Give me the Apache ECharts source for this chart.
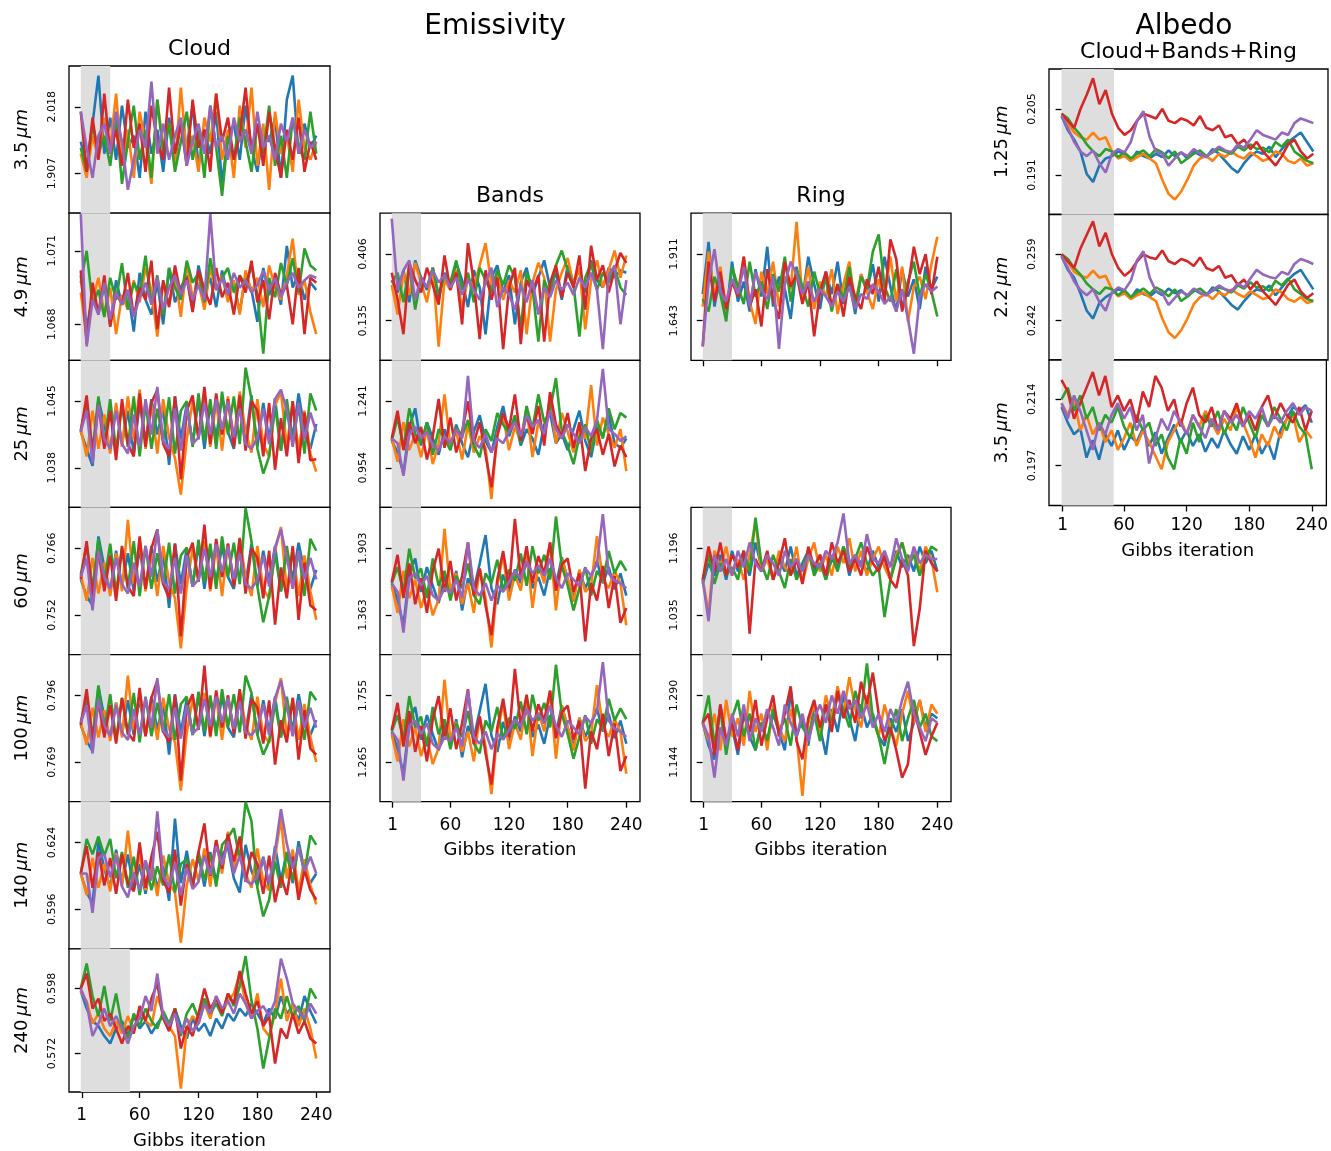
<!DOCTYPE html>
<html><head><meta charset="utf-8">
<script src="https://cdn.jsdelivr.net/npm/echarts@6/dist/echarts.min.js"></script>
<style>html,body{margin:0;padding:0;background:#fff}#c{width:1331px;height:1151px}</style>
</head><body><div id="c"></div><script>
// ---------------- DATA ----------------
const iterations = [0,6,12,18,24,30,36,42,48,54,60,66,72,78,84,90,96,102,108,114,120,126,132,138,144,150,156,162,168,174,180,186,192,198,204,210,216,222,228,234,240];
const xTickValues = [1,60,120,180,240];
const chainColors = ['#1f77b4','#ff7f0e','#2ca02c','#d62728','#9467bd'];

// Emissivity - Cloud (5 chains each: blue, orange, green, red, purple)
const cloud35 = [
[1.96,1.92,1.99,2.07,1.94,2.00,1.93,2.02,1.95,1.97,1.90,2.01,1.94,1.98,1.91,2.00,1.93,1.99,1.95,2.02,1.92,1.98,1.94,2.01,1.89,1.97,1.99,1.93,2.02,1.95,1.91,1.98,1.96,2.00,1.90,2.03,2.07,1.94,1.99,1.95,1.97],
[1.94,1.90,1.97,1.93,2.00,1.95,2.04,1.92,1.98,1.90,2.01,1.96,1.89,2.03,1.95,1.99,1.92,2.05,1.94,1.97,1.91,2.00,1.96,2.04,1.93,1.98,1.90,2.02,1.95,2.05,1.92,1.99,1.88,2.01,1.94,1.97,1.91,2.03,1.95,1.93,1.96],
[1.95,1.91,1.99,1.94,1.97,1.92,2.00,1.89,1.96,2.02,1.93,1.98,1.90,2.03,1.94,1.99,1.91,1.96,2.01,1.93,1.98,1.90,2.02,1.95,1.87,1.97,1.93,2.00,1.96,1.91,1.99,1.94,2.02,1.92,1.97,1.90,2.00,1.95,1.93,2.01,1.94],
[2.01,1.91,2.00,1.93,2.04,1.94,1.98,1.92,2.03,1.95,1.99,1.91,2.02,1.96,1.93,2.05,1.94,1.99,1.92,2.03,1.95,1.98,1.91,2.04,1.96,2.00,1.93,1.97,2.05,1.94,1.99,1.92,2.01,1.95,1.90,1.98,1.93,2.00,1.91,1.96,1.93],
[2.01,1.95,1.90,1.97,1.99,1.94,2.01,1.96,1.88,1.93,1.98,1.95,2.06,1.94,1.99,1.93,1.97,2.00,1.92,1.96,1.99,1.94,2.02,1.95,1.97,1.93,2.00,1.96,1.98,1.94,2.01,1.95,1.97,1.93,1.99,1.96,2.00,1.94,1.98,1.95,1.96]];
const cloud49 = [
[1.0700,1.0678,1.0692,1.0685,1.0696,1.0680,1.0698,1.0688,1.0694,1.0677,1.0701,1.0690,1.0684,1.0697,1.0680,1.0703,1.0689,1.0695,1.0700,1.0686,1.0704,1.0693,1.0699,1.0687,1.0702,1.0691,1.0697,1.0685,1.0700,1.0694,1.0681,1.0703,1.0692,1.0698,1.0688,1.0712,1.0695,1.0701,1.0690,1.0697,1.0694],
[1.0693,1.0675,1.0690,1.0699,1.0684,1.0695,1.0676,1.0692,1.0686,1.0698,1.0689,1.0703,1.0694,1.0675,1.0697,1.0688,1.0701,1.0683,1.0705,1.0691,1.0697,1.0686,1.0703,1.0694,1.0700,1.0689,1.0698,1.0684,1.0702,1.0693,1.0699,1.0687,1.0704,1.0695,1.0690,1.0700,1.0715,1.0692,1.0698,1.0685,1.0676],
[1.0697,1.0710,1.0688,1.0694,1.0683,1.0699,1.0690,1.0705,1.0686,1.0697,1.0692,1.0708,1.0688,1.0700,1.0684,1.0703,1.0695,1.0690,1.0706,1.0697,1.0701,1.0689,1.0707,1.0694,1.0699,1.0703,1.0693,1.0700,1.0696,1.0704,1.0692,1.0668,1.0699,1.0691,1.0705,1.0696,1.0707,1.0693,1.0711,1.0704,1.0702],
[1.0702,1.0672,1.0697,1.0684,1.0700,1.0679,1.0693,1.0688,1.0701,1.0683,1.0695,1.0690,1.0706,1.0678,1.0698,1.0687,1.0704,1.0692,1.0699,1.0685,1.0702,1.0694,1.0688,1.0703,1.0691,1.0697,1.0684,1.0700,1.0693,1.0706,1.0689,1.0698,1.0682,1.0701,1.0692,1.0696,1.0680,1.0703,1.0676,1.0699,1.0697],
[1.0725,1.0671,1.0690,1.0684,1.0697,1.0682,1.0693,1.0688,1.0694,1.0683,1.0691,1.0697,1.0688,1.0699,1.0686,1.0695,1.0700,1.0692,1.0698,1.0690,1.0696,1.0690,1.0725,1.0694,1.0699,1.0692,1.0701,1.0695,1.0698,1.0693,1.0696,1.0702,1.0694,1.0699,1.0691,1.0697,1.0701,1.0695,1.0698,1.0700,1.0699]];
const cloud25 = [
[1.0418,1.0400,1.0382,1.0452,1.0425,1.0398,1.0445,1.0405,1.0440,1.0395,1.0448,1.0408,1.0452,1.0415,1.0442,1.0383,1.0455,1.0410,1.0447,1.0405,1.0452,1.0400,1.0446,1.0412,1.0455,1.0418,1.0400,1.0450,1.0408,1.0456,1.0402,1.0448,1.0410,1.0453,1.0398,1.0445,1.0412,1.0458,1.0420,1.0400,1.0426],
[1.0420,1.0392,1.0440,1.0400,1.0436,1.0395,1.0448,1.0402,1.0455,1.0410,1.0462,1.0400,1.0446,1.0395,1.0452,1.0412,1.0390,1.0352,1.0410,1.0450,1.0412,1.0458,1.0402,1.0450,1.0398,1.0455,1.0410,1.0460,1.0418,1.0396,1.0452,1.0405,1.0392,1.0445,1.0460,1.0402,1.0450,1.0398,1.0440,1.0395,1.0376],
[1.0420,1.0448,1.0398,1.0455,1.0405,1.0452,1.0398,1.0446,1.0402,1.0455,1.0392,1.0448,1.0400,1.0442,1.0408,1.0454,1.0395,1.0440,1.0450,1.0402,1.0458,1.0408,1.0452,1.0400,1.0460,1.0415,1.0455,1.0405,1.0485,1.0452,1.0400,1.0374,1.0392,1.0445,1.0398,1.0452,1.0405,1.0446,1.0395,1.0458,1.0440],
[1.0418,1.0456,1.0395,1.0446,1.0400,1.0440,1.0388,1.0452,1.0405,1.0392,1.0458,1.0402,1.0448,1.0462,1.0405,1.0392,1.0455,1.0368,1.0440,1.0456,1.0410,1.0465,1.0405,1.0458,1.0415,1.0452,1.0402,1.0456,1.0398,1.0450,1.0440,1.0392,1.0448,1.0378,1.0432,1.0392,1.0450,1.0385,1.0438,1.0388,1.0389],
[1.0418,1.0440,1.0385,1.0446,1.0410,1.0400,1.0440,1.0405,1.0395,1.0436,1.0402,1.0452,1.0415,1.0465,1.0408,1.0400,1.0442,1.0398,1.0445,1.0405,1.0412,1.0448,1.0415,1.0452,1.0420,1.0450,1.0412,1.0442,1.0405,1.0400,1.0412,1.0442,1.0405,1.0452,1.0462,1.0440,1.0402,1.0448,1.0410,1.0438,1.0418]];
const cloud60 = [
[0.7595,0.7560,0.7540,0.7685,0.7620,0.7570,0.7655,0.7580,0.7650,0.7570,0.7660,0.7575,0.7665,0.7590,0.7650,0.7535,0.7670,0.7585,0.7660,0.7580,0.7668,0.7575,0.7660,0.7590,0.7665,0.7600,0.7575,0.7660,0.7585,0.7670,0.7580,0.7655,0.7590,0.7665,0.7570,0.7655,0.7595,0.7672,0.7610,0.7575,0.7615],
[0.7605,0.7550,0.7640,0.7565,0.7630,0.7560,0.7650,0.7570,0.7720,0.7585,0.7675,0.7570,0.7650,0.7560,0.7665,0.7590,0.7555,0.7450,0.7580,0.7660,0.7590,0.7675,0.7570,0.7665,0.7560,0.7670,0.7585,0.7680,0.7600,0.7560,0.7665,0.7575,0.7555,0.7655,0.7705,0.7570,0.7660,0.7560,0.7645,0.7570,0.7510],
[0.7605,0.7665,0.7575,0.7680,0.7590,0.7670,0.7565,0.7660,0.7575,0.7675,0.7560,0.7665,0.7575,0.7650,0.7585,0.7672,0.7565,0.7645,0.7662,0.7580,0.7678,0.7590,0.7670,0.7575,0.7685,0.7600,0.7672,0.7585,0.7745,0.7675,0.7580,0.7505,0.7560,0.7650,0.7570,0.7665,0.7580,0.7655,0.7560,0.7680,0.7655],
[0.7595,0.7675,0.7560,0.7655,0.7570,0.7645,0.7550,0.7665,0.7580,0.7560,0.7685,0.7575,0.7660,0.7700,0.7585,0.7555,0.7670,0.7475,0.7640,0.7672,0.7590,0.7710,0.7575,0.7680,0.7600,0.7670,0.7580,0.7682,0.7565,0.7660,0.7640,0.7555,0.7655,0.7500,0.7620,0.7555,0.7665,0.7510,0.7630,0.7540,0.7530],
[0.7600,0.7640,0.7530,0.7655,0.7600,0.7575,0.7640,0.7585,0.7565,0.7630,0.7580,0.7665,0.7600,0.7700,0.7590,0.7575,0.7640,0.7565,0.7645,0.7580,0.7595,0.7660,0.7600,0.7668,0.7610,0.7665,0.7595,0.7650,0.7585,0.7575,0.7595,0.7645,0.7580,0.7662,0.7700,0.7640,0.7575,0.7655,0.7595,0.7640,0.7595]];
const cloud100 = [
[0.7840,0.7775,0.7735,0.7995,0.7870,0.7790,0.7930,0.7805,0.7940,0.7800,0.7950,0.7795,0.7955,0.7820,0.7930,0.7720,0.7965,0.7810,0.7945,0.7800,0.7960,0.7795,0.7945,0.7815,0.7955,0.7830,0.7790,0.7950,0.7810,0.7965,0.7800,0.7940,0.7815,0.7955,0.7790,0.7940,0.7820,0.7965,0.7845,0.7800,0.7860],
[0.7850,0.7760,0.7910,0.7790,0.7900,0.7775,0.7930,0.7790,0.8040,0.7820,0.7965,0.7795,0.7930,0.7780,0.7950,0.7825,0.7770,0.7575,0.7810,0.7945,0.7825,0.7970,0.7790,0.7955,0.7780,0.7960,0.7815,0.7975,0.7840,0.7780,0.7955,0.7800,0.7770,0.7930,0.8030,0.7790,0.7950,0.7780,0.7925,0.7790,0.7690],
[0.7850,0.7950,0.7790,0.8000,0.7815,0.7965,0.7780,0.7950,0.7800,0.7970,0.7770,0.7955,0.7795,0.7930,0.7810,0.7965,0.7780,0.7925,0.7955,0.7800,0.7975,0.7815,0.7960,0.7795,0.7985,0.7830,0.7965,0.7810,0.8040,0.7970,0.7800,0.7720,0.7775,0.7930,0.7790,0.7955,0.7800,0.7940,0.7780,0.7975,0.7940],
[0.7840,0.7985,0.7780,0.7935,0.7790,0.7920,0.7765,0.7950,0.7810,0.7775,0.7990,0.7795,0.7950,0.8020,0.7815,0.7770,0.7960,0.7615,0.7910,0.7965,0.7820,0.8080,0.7795,0.7980,0.7830,0.7960,0.7805,0.7985,0.7785,0.7945,0.7910,0.7765,0.7940,0.7680,0.7860,0.7770,0.7950,0.7700,0.7900,0.7745,0.7720],
[0.7850,0.7920,0.7725,0.7945,0.7840,0.7795,0.7920,0.7810,0.7780,0.7905,0.7800,0.7950,0.7830,0.8030,0.7820,0.7790,0.7910,0.7785,0.7920,0.7805,0.7830,0.7945,0.7835,0.7955,0.7850,0.7950,0.7825,0.7935,0.7810,0.7800,0.7830,0.7925,0.7800,0.7950,0.8020,0.7915,0.7795,0.7940,0.7830,0.7910,0.7830]];
const cloud140 = [
[0.6110,0.6030,0.5985,0.6245,0.6130,0.6050,0.6210,0.6070,0.6190,0.6040,0.6150,0.6025,0.6165,0.6050,0.6140,0.5995,0.6340,0.6070,0.6205,0.6060,0.6185,0.6055,0.6200,0.6075,0.6190,0.6220,0.6090,0.6030,0.6230,0.6120,0.6060,0.6180,0.6050,0.6225,0.6080,0.6200,0.6070,0.6245,0.6120,0.6070,0.6110],
[0.6110,0.6020,0.6175,0.6050,0.6150,0.6035,0.6195,0.6055,0.6290,0.6075,0.6190,0.6040,0.6160,0.6015,0.6185,0.6070,0.6030,0.5820,0.6060,0.6170,0.6080,0.6215,0.6055,0.6250,0.6110,0.6285,0.6130,0.6250,0.6110,0.6050,0.6215,0.6075,0.6040,0.6180,0.6340,0.6090,0.6210,0.6035,0.6170,0.6060,0.5980],
[0.6110,0.6255,0.6190,0.6265,0.6185,0.6255,0.6090,0.6200,0.6050,0.6180,0.6020,0.6160,0.6040,0.6140,0.6060,0.6190,0.6030,0.6150,0.6170,0.6050,0.6200,0.6080,0.6190,0.6055,0.6230,0.6260,0.6300,0.6170,0.6410,0.6330,0.6050,0.5930,0.6000,0.6160,0.6050,0.6200,0.6080,0.6225,0.6110,0.6270,0.6230],
[0.6110,0.6225,0.6050,0.6200,0.6060,0.6175,0.6025,0.6190,0.6070,0.6035,0.6240,0.6050,0.6180,0.6285,0.6080,0.6030,0.6210,0.5975,0.6150,0.6060,0.6200,0.6320,0.6100,0.6250,0.6130,0.6275,0.6160,0.6265,0.6075,0.6200,0.6150,0.6025,0.6185,0.5990,0.6100,0.6020,0.6180,0.6000,0.6125,0.6040,0.6000],
[0.6110,0.6110,0.5945,0.6175,0.6190,0.6095,0.6185,0.6055,0.6010,0.6115,0.6040,0.6165,0.6080,0.6370,0.6100,0.6055,0.6155,0.6020,0.6135,0.6045,0.6075,0.6185,0.6105,0.6225,0.6145,0.6245,0.6110,0.6185,0.6080,0.6065,0.6100,0.6175,0.6070,0.6205,0.6380,0.6235,0.6130,0.6220,0.6120,0.6180,0.6110]];
const cloud240 = [
[0.5970,0.5900,0.5850,0.5830,0.5790,0.5760,0.5820,0.5850,0.5790,0.5870,0.5820,0.5850,0.5800,0.5840,0.5870,0.5810,0.5900,0.5830,0.5780,0.5860,0.5810,0.5840,0.5790,0.5860,0.5820,0.5880,0.5850,0.5900,0.5870,0.5920,0.5880,0.5840,0.5900,0.5860,0.5950,0.5880,0.5910,0.5850,0.5950,0.5890,0.5840],
[0.5970,0.5930,0.5840,0.5880,0.5820,0.5790,0.5850,0.5800,0.5870,0.5810,0.5900,0.5850,0.5830,0.5950,0.5880,0.5830,0.5790,0.5580,0.5820,0.5870,0.5840,0.5920,0.5860,0.5950,0.5880,0.5930,0.5960,0.6040,0.5920,0.5860,0.5960,0.5820,0.5790,0.5880,0.6020,0.5850,0.5920,0.5830,0.5900,0.5820,0.5700],
[0.5980,0.6080,0.5950,0.5870,0.5990,0.5850,0.5960,0.5830,0.5780,0.5880,0.5830,0.5900,0.5850,0.5820,0.5890,0.5840,0.5900,0.5790,0.5880,0.5920,0.5860,0.5940,0.5880,0.5920,0.5870,0.5960,0.5910,0.5990,0.6110,0.5930,0.5820,0.5660,0.5780,0.5900,0.5860,0.5950,0.5870,0.5910,0.5850,0.5980,0.5940],
[0.5980,0.6040,0.5900,0.5940,0.5850,0.5880,0.5820,0.5760,0.5830,0.5800,0.5910,0.5850,0.5940,0.6000,0.5860,0.5810,0.5900,0.5740,0.5830,0.5790,0.5880,0.5980,0.5900,0.5940,0.5880,0.5960,0.5920,0.6050,0.5960,0.5880,0.5930,0.5830,0.5870,0.5680,0.5820,0.5780,0.5880,0.5800,0.5850,0.5780,0.5760],
[0.5980,0.5920,0.5790,0.5840,0.5900,0.5830,0.5870,0.5820,0.5760,0.5830,0.5860,0.5950,0.5890,0.6040,0.5870,0.5830,0.5880,0.5800,0.5860,0.5810,0.5840,0.5920,0.5880,0.5950,0.5900,0.5930,0.5880,0.5960,0.5920,0.5860,0.5890,0.5910,0.5870,0.5930,0.6100,0.6020,0.5920,0.5890,0.5860,0.5920,0.5880]];

// Emissivity - Bands
const bands49 = [
[0.30,0.25,0.34,0.21,0.38,0.31,0.26,0.35,0.22,0.33,0.28,0.37,0.30,0.19,0.34,0.27,0.08,0.31,0.36,0.25,0.32,0.12,0.29,0.35,0.24,0.31,0.38,0.27,0.33,0.22,0.36,0.29,0.34,0.25,0.38,0.30,0.27,0.35,0.31,0.34,0.33],
[0.28,0.16,0.33,0.24,0.37,0.29,0.21,0.35,0.03,0.30,0.26,0.34,0.18,0.31,0.27,0.36,0.45,0.28,0.33,0.22,0.30,0.25,0.34,0.08,0.29,0.37,0.31,0.05,0.26,0.33,0.39,0.28,0.35,0.10,0.30,0.38,0.27,0.34,0.42,0.31,0.40],
[0.29,0.33,0.21,0.36,0.18,0.31,0.27,0.35,0.24,0.32,0.29,0.38,0.26,0.33,0.21,0.35,0.30,0.25,0.34,0.28,0.36,0.31,0.10,0.33,0.27,0.05,0.30,0.24,0.36,0.42,0.34,0.28,0.07,0.31,0.37,0.26,0.33,0.29,0.35,0.27,0.24],
[0.33,0.22,0.08,0.37,0.30,0.25,0.35,0.28,0.20,0.40,0.26,0.33,0.12,0.45,0.29,0.06,0.34,0.22,0.31,0.02,0.27,0.35,0.04,0.30,0.25,0.32,0.05,0.29,0.36,0.23,0.33,0.27,0.40,0.18,0.44,0.30,0.36,0.25,0.34,0.41,0.37],
[0.55,0.26,0.34,0.38,0.22,0.31,0.27,0.34,0.29,0.32,0.27,0.31,0.24,0.30,0.26,0.22,0.29,0.35,0.19,0.27,0.24,0.18,0.28,0.21,0.30,0.16,0.27,0.23,0.30,0.26,0.29,0.24,0.31,0.27,0.33,0.26,0.02,0.32,0.36,0.12,0.30]];
const bands25 = [
[1.07,1.02,0.93,1.13,1.21,1.05,1.15,1.08,1.01,1.12,1.04,1.14,1.06,1.00,1.11,1.18,1.07,1.02,1.13,1.22,1.09,1.16,1.05,1.12,1.08,1.01,1.14,1.19,1.06,1.10,1.03,1.12,1.20,1.07,1.00,1.13,1.09,1.18,1.06,1.04,1.08],
[1.08,0.98,1.15,1.03,1.10,1.00,1.12,0.97,1.06,1.27,1.05,1.11,0.99,1.14,1.02,1.09,1.04,0.82,1.10,1.18,1.03,1.13,1.07,1.21,1.00,1.15,1.09,1.26,1.06,1.19,1.11,1.02,1.14,1.08,1.31,1.05,1.17,1.10,1.04,1.12,0.94],
[1.07,1.17,1.04,1.21,1.10,1.06,1.15,1.01,1.12,1.08,1.03,1.13,1.09,1.16,1.05,1.00,1.12,1.07,1.19,1.14,1.10,1.18,1.06,1.22,1.12,1.27,1.15,1.20,1.34,1.11,1.05,0.97,1.09,1.14,1.02,1.16,1.08,1.21,1.12,1.19,1.17],
[1.08,1.20,1.03,1.15,1.06,1.13,0.99,1.09,1.25,1.04,1.17,1.02,1.11,1.24,1.06,1.15,1.01,0.87,1.09,1.19,1.12,1.27,1.07,1.18,1.10,1.22,1.05,1.28,1.14,1.09,1.19,1.04,1.15,0.94,1.08,1.12,1.01,1.10,0.96,1.05,1.00],
[1.08,1.06,0.92,1.10,1.13,1.08,1.11,1.05,1.03,1.09,1.06,1.12,1.08,1.35,1.07,1.04,1.10,1.02,1.08,1.06,1.11,1.15,1.09,1.18,1.13,1.16,1.10,1.20,1.12,1.08,1.14,1.10,1.06,1.13,1.09,1.16,1.38,1.12,1.10,1.07,1.09]];
const bands60 = [
[1.62,1.48,1.28,1.70,1.82,1.55,1.75,1.60,1.46,1.68,1.52,1.72,1.40,1.66,1.57,1.78,2.01,1.58,1.45,1.69,1.55,1.73,1.62,1.80,1.58,1.67,1.52,1.74,1.60,1.83,1.65,1.50,1.72,1.58,1.68,1.80,1.62,1.75,1.57,1.70,1.52],
[1.60,1.38,1.72,1.50,1.65,1.42,1.58,1.36,1.49,2.06,1.55,1.70,1.45,1.62,1.38,1.74,1.50,1.10,1.60,1.85,1.48,1.69,1.56,1.88,1.42,1.77,1.62,1.95,1.40,1.82,1.66,1.47,1.73,1.55,1.60,2.00,1.65,1.58,1.72,1.62,1.28],
[1.62,1.75,1.55,1.90,1.66,1.74,1.50,1.82,1.60,1.72,1.48,1.68,1.58,1.78,1.52,1.45,1.70,1.62,1.81,1.56,1.73,1.64,1.86,1.60,1.92,1.70,1.85,1.65,2.16,1.76,1.60,1.40,1.58,1.75,1.52,1.72,1.64,1.88,1.70,1.80,1.72],
[1.63,1.85,1.50,1.78,1.45,1.66,1.38,1.72,1.90,1.55,1.80,1.48,1.68,1.95,1.52,1.74,1.44,1.20,1.65,1.88,1.58,2.14,1.66,1.92,1.62,1.84,1.70,1.95,1.56,1.77,1.82,1.55,1.70,1.15,1.62,1.48,1.76,1.42,1.68,1.30,1.42],
[1.62,1.55,1.22,1.66,1.70,1.60,1.68,1.52,1.48,1.58,1.54,1.65,1.50,1.95,1.58,1.52,1.62,1.48,1.60,1.55,1.63,1.72,1.66,1.80,1.70,1.76,1.68,1.82,1.66,1.58,1.70,1.65,1.60,1.74,1.68,1.78,2.18,1.70,1.64,1.62,1.58]];
const bands100 = [
[1.49,1.36,1.18,1.56,1.67,1.43,1.61,1.47,1.35,1.54,1.40,1.58,1.30,1.53,1.44,1.64,1.84,1.46,1.34,1.56,1.42,1.60,1.49,1.66,1.45,1.54,1.40,1.61,1.47,1.68,1.52,1.38,1.59,1.45,1.55,1.66,1.49,1.62,1.44,1.57,1.40],
[1.47,1.27,1.58,1.38,1.52,1.31,1.45,1.25,1.37,1.87,1.43,1.56,1.34,1.49,1.27,1.60,1.38,1.03,1.47,1.70,1.36,1.55,1.43,1.72,1.31,1.63,1.49,1.79,1.29,1.68,1.52,1.35,1.59,1.42,1.47,1.83,1.52,1.45,1.58,1.49,1.18],
[1.49,1.61,1.43,1.75,1.52,1.60,1.38,1.67,1.47,1.58,1.36,1.55,1.45,1.64,1.40,1.33,1.57,1.49,1.67,1.43,1.59,1.51,1.71,1.47,1.76,1.57,1.70,1.52,1.98,1.62,1.47,1.29,1.45,1.61,1.40,1.58,1.51,1.73,1.57,1.66,1.58],
[1.50,1.70,1.38,1.64,1.34,1.53,1.27,1.58,1.75,1.43,1.66,1.36,1.55,1.80,1.40,1.60,1.33,1.10,1.52,1.73,1.45,1.95,1.53,1.76,1.49,1.69,1.57,1.79,1.44,1.63,1.68,1.43,1.57,1.07,1.49,1.36,1.62,1.31,1.55,1.20,1.31],
[1.49,1.43,1.13,1.53,1.57,1.47,1.55,1.40,1.36,1.45,1.42,1.52,1.38,1.79,1.45,1.40,1.49,1.36,1.47,1.43,1.50,1.58,1.53,1.66,1.57,1.62,1.55,1.68,1.53,1.45,1.57,1.52,1.47,1.60,1.55,1.64,2.00,1.57,1.51,1.49,1.45]];

// Emissivity - Ring
const ring49 = [
[1.75,1.96,1.70,1.83,1.66,1.88,1.72,1.80,1.68,1.85,1.74,1.94,1.70,1.82,1.77,1.65,1.86,1.73,1.90,1.79,1.69,1.84,1.75,1.88,1.71,1.80,1.67,1.83,1.76,1.87,1.72,1.90,1.78,1.68,1.85,1.74,1.81,1.69,1.86,1.77,1.82],
[1.70,1.92,1.74,1.86,1.68,1.81,1.76,1.90,1.72,1.63,1.84,1.75,1.88,1.70,1.82,1.77,2.04,1.73,1.86,1.69,1.80,1.74,1.85,1.67,1.79,1.88,1.71,1.83,1.76,1.69,1.81,1.74,1.90,1.72,1.86,1.64,1.78,1.82,1.73,1.87,1.98],
[1.73,1.68,1.82,1.75,1.64,1.86,1.78,1.71,1.88,1.74,1.80,1.69,1.83,1.76,1.90,1.72,1.85,1.78,1.70,1.84,1.75,1.81,1.68,1.79,1.73,1.86,1.70,1.82,1.77,1.92,1.99,1.78,1.72,1.85,1.69,1.80,1.88,1.74,1.83,1.76,1.66],
[1.54,1.88,1.72,1.84,1.69,1.80,1.74,1.90,1.70,1.77,1.62,1.85,1.73,1.65,1.88,1.78,1.83,1.71,1.80,1.58,1.76,1.84,1.70,1.79,1.66,1.82,1.74,1.69,1.81,1.75,1.86,1.72,1.97,1.89,1.68,1.78,1.94,1.83,1.91,1.75,1.90],
[1.54,1.80,1.93,1.76,1.72,1.81,1.75,1.86,1.70,1.84,1.77,1.73,1.82,1.53,1.79,1.88,1.83,1.75,1.80,1.72,1.77,1.74,1.70,1.76,1.72,1.78,1.69,1.75,1.73,1.79,1.76,1.71,1.74,1.68,1.77,1.65,1.51,1.74,1.79,1.76,1.78]];
const ring60 = [
[1.11,1.16,1.13,1.18,1.12,1.19,1.14,1.17,1.13,1.21,1.15,1.18,1.12,1.17,1.14,1.20,1.13,1.16,1.19,1.14,1.18,1.12,1.17,1.15,1.20,1.13,1.18,1.16,1.14,1.19,1.15,1.17,1.12,1.19,1.15,1.18,1.14,1.20,1.16,1.19,1.14],
[1.12,1.04,1.19,1.15,1.20,1.13,1.17,1.12,1.18,1.26,1.14,1.17,1.12,1.19,1.15,1.13,1.20,1.11,1.17,1.21,1.14,1.18,1.13,1.20,1.16,1.22,1.14,1.19,1.13,1.17,1.20,1.15,1.12,1.18,1.21,1.16,1.19,1.14,1.20,1.17,1.09],
[1.12,1.18,1.11,1.16,1.13,1.15,1.12,1.19,1.14,1.27,1.16,1.12,1.18,1.14,1.10,1.17,1.12,1.15,1.19,1.13,1.16,1.12,1.18,1.14,1.20,1.15,1.17,1.21,1.16,1.13,1.15,1.03,1.12,1.17,1.21,1.15,1.18,1.13,1.17,1.20,1.19],
[1.12,1.20,1.14,1.21,1.13,1.18,1.15,1.19,0.99,1.17,1.14,1.19,1.12,1.16,1.22,1.13,1.17,1.11,1.20,1.15,1.18,1.13,1.21,1.16,1.19,1.14,1.17,1.13,1.20,1.16,1.14,1.18,1.12,1.10,1.17,1.13,0.96,1.05,1.19,1.16,1.14],
[1.12,1.02,1.18,1.14,1.17,1.13,1.19,1.15,1.21,1.16,1.14,1.18,1.16,1.13,1.19,1.15,1.17,1.14,1.18,1.16,1.15,1.19,1.17,1.21,1.28,1.16,1.18,1.15,1.23,1.17,1.16,1.19,1.15,1.22,1.17,1.14,1.20,1.16,1.18,1.17,1.17]];
const ring100 = [
[1.23,1.18,1.15,1.27,1.19,1.22,1.16,1.25,1.20,1.17,1.23,1.19,1.25,1.21,1.17,1.30,1.20,1.24,1.18,1.27,1.22,1.16,1.26,1.21,1.29,1.24,1.19,1.27,1.22,1.25,1.20,1.18,1.24,1.21,1.26,1.19,1.23,1.28,1.22,1.25,1.24],
[1.23,1.19,1.25,1.17,1.28,1.20,1.24,1.18,1.30,1.21,1.25,1.17,1.27,1.22,1.19,1.26,1.20,1.07,1.23,1.27,1.21,1.29,1.24,1.31,1.25,1.33,1.26,1.22,1.29,1.24,1.20,1.27,1.22,1.18,1.25,1.30,1.23,1.28,1.21,1.27,1.25],
[1.23,1.29,1.18,1.26,1.16,1.24,1.28,1.20,1.25,1.17,1.23,1.19,1.26,1.21,1.24,1.18,1.27,1.22,1.20,1.25,1.19,1.27,1.23,1.29,1.26,1.22,1.30,1.25,1.36,1.24,1.20,1.14,1.21,1.26,1.19,1.24,1.28,1.22,1.25,1.20,1.19],
[1.23,1.25,1.16,1.27,1.19,1.23,1.17,1.26,1.21,1.28,1.18,1.24,1.29,1.20,1.25,1.31,1.19,1.15,1.24,1.28,1.22,1.27,1.21,1.30,1.24,1.28,1.23,1.32,1.27,1.34,1.25,1.19,1.22,1.17,1.11,1.14,1.26,1.21,1.16,1.20,1.23],
[1.23,1.20,1.11,1.22,1.18,1.25,1.20,1.27,1.19,1.24,1.21,1.26,1.22,1.18,1.27,1.23,1.20,1.25,1.19,1.24,1.27,1.23,1.29,1.25,1.30,1.26,1.28,1.24,1.27,1.22,1.25,1.21,1.26,1.23,1.28,1.32,1.25,1.22,1.19,1.24,1.23]];

// Albedo - Cloud+Bands+Ring
const albedo125 = [
[0.2035,0.2005,0.1985,0.1960,0.1912,0.1895,0.1930,0.1945,0.1950,0.1960,0.1955,0.1940,0.1960,0.1950,0.1945,0.1955,0.1948,0.1962,0.1950,0.1958,0.1945,0.1960,0.1952,0.1948,0.1965,0.1955,0.1940,0.1925,0.1915,0.1935,0.1950,0.1960,0.1955,0.1970,0.1948,0.1965,0.1980,0.1990,0.2000,0.1980,0.1960],
[0.2035,0.2020,0.2000,0.1990,0.1985,0.2000,0.1985,0.1990,0.1960,0.1945,0.1950,0.1940,0.1948,0.1955,0.1945,0.1935,0.1900,0.1870,0.1858,0.1875,0.1900,0.1930,0.1945,0.1950,0.1940,0.1955,0.1948,0.1960,0.1950,0.1945,0.1958,0.1950,0.1940,0.1945,0.1960,0.1955,0.1940,0.1935,0.1945,0.1930,0.1935],
[0.2040,0.2030,0.2010,0.1995,0.1975,0.1960,0.1950,0.1965,0.1960,0.1948,0.1958,0.1945,0.1955,0.1962,0.1950,0.1965,0.1958,0.1945,0.1960,0.1935,0.1945,0.1955,0.1962,0.1950,0.1958,0.1965,0.1960,0.1955,0.1970,0.1962,0.1975,0.1965,0.1968,0.1958,0.1980,0.1970,0.1985,0.1960,0.1950,0.1940,0.1935],
[0.2040,0.2025,0.2010,0.2050,0.2080,0.2115,0.2060,0.2090,0.2040,0.2010,0.1995,0.2005,0.2025,0.2040,0.2035,0.2030,0.2050,0.2025,0.2020,0.2030,0.2025,0.2015,0.2035,0.2010,0.2005,0.2015,0.1990,0.1995,0.1975,0.1985,0.1965,0.1980,0.1960,0.1945,0.1930,0.1950,0.1975,0.1985,0.1960,0.1945,0.1955],
[0.2035,0.2010,0.1980,0.1960,0.1950,0.1962,0.1935,0.1915,0.1955,0.1965,0.1958,0.1980,0.2025,0.2045,0.1990,0.1960,0.1955,0.1930,0.1945,0.1958,0.1950,0.1965,0.1955,0.1948,0.1960,0.1970,0.1962,0.1958,0.1975,0.1968,0.1985,0.2005,0.1995,0.1990,0.1985,0.2000,0.1995,0.2020,0.2030,0.2025,0.2020]];
const albedo22 = [
[0.2585,0.2550,0.2530,0.2490,0.2445,0.2425,0.2465,0.2480,0.2490,0.2500,0.2495,0.2478,0.2500,0.2488,0.2482,0.2495,0.2485,0.2502,0.2490,0.2498,0.2482,0.2500,0.2490,0.2485,0.2505,0.2495,0.2478,0.2460,0.2448,0.2470,0.2488,0.2500,0.2495,0.2510,0.2485,0.2505,0.2525,0.2540,0.2550,0.2525,0.2500],
[0.2585,0.2570,0.2545,0.2535,0.2530,0.2548,0.2530,0.2535,0.2500,0.2482,0.2490,0.2475,0.2485,0.2492,0.2480,0.2470,0.2425,0.2390,0.2375,0.2395,0.2425,0.2462,0.2480,0.2488,0.2475,0.2492,0.2485,0.2500,0.2488,0.2480,0.2495,0.2485,0.2475,0.2480,0.2500,0.2492,0.2475,0.2468,0.2480,0.2465,0.2470],
[0.2590,0.2578,0.2555,0.2538,0.2515,0.2500,0.2488,0.2505,0.2500,0.2485,0.2498,0.2480,0.2492,0.2502,0.2488,0.2505,0.2496,0.2482,0.2500,0.2470,0.2482,0.2495,0.2502,0.2488,0.2496,0.2505,0.2500,0.2492,0.2510,0.2502,0.2518,0.2505,0.2508,0.2496,0.2522,0.2510,0.2528,0.2500,0.2488,0.2475,0.2470],
[0.2590,0.2572,0.2555,0.2605,0.2640,0.2675,0.2610,0.2645,0.2590,0.2555,0.2535,0.2548,0.2572,0.2590,0.2582,0.2578,0.2600,0.2572,0.2565,0.2578,0.2572,0.2560,0.2582,0.2555,0.2548,0.2560,0.2530,0.2536,0.2512,0.2525,0.2500,0.2520,0.2495,0.2478,0.2460,0.2485,0.2512,0.2525,0.2495,0.2478,0.2490],
[0.2585,0.2555,0.2520,0.2498,0.2485,0.2500,0.2468,0.2445,0.2492,0.2505,0.2498,0.2522,0.2575,0.2598,0.2530,0.2495,0.2490,0.2460,0.2478,0.2495,0.2485,0.2502,0.2492,0.2485,0.2498,0.2510,0.2500,0.2495,0.2515,0.2505,0.2528,0.2550,0.2538,0.2532,0.2528,0.2545,0.2538,0.2565,0.2578,0.2572,0.2565]];
const albedo35 = [
[0.2120,0.2080,0.2050,0.2065,0.1990,0.2035,0.1985,0.2050,0.2020,0.2060,0.2010,0.2045,0.2030,0.2065,0.2020,0.2055,0.2000,0.2040,0.2075,0.2030,0.2060,0.2020,0.2050,0.2005,0.2040,0.2015,0.2060,0.2025,0.2000,0.2045,0.2010,0.2050,0.2000,0.2030,0.1985,0.2060,0.2090,0.2120,0.2110,0.2125,0.2080],
[0.2130,0.2100,0.2140,0.2060,0.2100,0.2050,0.2080,0.2030,0.2060,0.2010,0.2040,0.2080,0.2020,0.2060,0.2030,0.1995,0.1960,0.2030,0.2060,0.2090,0.2050,0.2100,0.2070,0.2110,0.2080,0.2050,0.2090,0.2060,0.2120,0.2080,0.2040,0.1990,0.2050,0.2020,0.2070,0.2040,0.2090,0.2100,0.2030,0.2060,0.2040],
[0.2140,0.2170,0.2110,0.2150,0.2090,0.2120,0.2060,0.2100,0.2080,0.2120,0.2070,0.2040,0.2100,0.2060,0.2080,0.2020,0.2050,0.1990,0.1960,0.2040,0.2000,0.2080,0.2030,0.2100,0.2070,0.2110,0.2050,0.2090,0.2060,0.2120,0.2080,0.2040,0.2100,0.2070,0.2120,0.2090,0.2060,0.2110,0.2070,0.2050,0.1960],
[0.2190,0.2160,0.2090,0.2130,0.2170,0.2210,0.2150,0.2200,0.2120,0.2150,0.2110,0.2140,0.2080,0.2160,0.2120,0.2200,0.2170,0.2110,0.2140,0.2070,0.2130,0.2170,0.2100,0.2080,0.2120,0.2060,0.2110,0.2090,0.2130,0.2070,0.2100,0.2060,0.2120,0.2150,0.2090,0.2130,0.2100,0.2080,0.2120,0.2060,0.2110],
[0.2130,0.2090,0.2150,0.2110,0.2060,0.2010,0.2080,0.2050,0.2100,0.2130,0.2090,0.2120,0.2060,0.2100,0.1975,0.2040,0.2090,0.2060,0.2110,0.2080,0.2050,0.2100,0.2070,0.2040,0.2090,0.2060,0.2110,0.2080,0.2100,0.2070,0.2110,0.2090,0.2120,0.2070,0.2100,0.2080,0.2110,0.2130,0.2100,0.2120,0.2110]];

// Tick labels (lower, upper) and axis limits per panel
const cloudYTicks = [[1.907,2.018],[1.068,1.071],[1.038,1.045],[0.752,0.766],[0.769,0.796],[0.596,0.624],[0.572,0.598]];
const cloudYLim = [[1.8412,2.0859],[1.06653,1.07254],[1.03385,1.04928],[0.7437,0.7746],[0.75299,0.81252],[0.5794,0.6411],[0.5566,0.6139]];
const cloudNames = ['3.5','4.9','25','60','100','140','240'];
const bandsYTicks = [[0.135,0.406],[0.954,1.241],[1.363,1.903],[1.265,1.755]];
const bandsYLim = [[-0.0257,0.5719],[0.7838,1.4166],[1.0428,2.2335],[0.9744,2.0549]];
const ringYTicks = [[1.643,1.911],[1.035,1.196],[1.144,1.290]];
const ringYLim = [[1.4841,2.075],[0.9395,1.2945],[1.0574,1.3794]];
const albedoYTicks = [[0.191,0.205],[0.242,0.259],[0.197,0.214]];
const albedoYLim = [[0.18262,0.21348],[0.23186,0.26922],[0.1867,0.2241]];
const albedoNames = ['1.25','2.2','3.5'];

// ---------------- CHART ----------------
const FONT = 'DejaVu Sans';
const option = {animation:false, backgroundColor:'#fff', grid:[], xAxis:[], yAxis:[], series:[], graphic:[]};
const EM_TOP = 66, EM_H = 147.14, AL_TOP = 69, AL_H = 145.5;

function addPanel(p) {
  const i = option.grid.length;
  option.grid.push({left:p.left, top:p.top, width:p.width, height:p.height, show:true,
    borderColor:'#000', borderWidth:1.3, backgroundColor:'#fff'});
  option.xAxis.push({gridIndex:i, type:'value', min:-12, max:254,
    axisLine:{show:false}, splitLine:{show:false},
    axisTick:{show:!!p.xTicks, customValues:xTickValues, length:6, lineStyle:{color:'#000', width:1.3}},
    axisLabel:{show:!!p.xLabels, customValues:xTickValues, fontSize:17, color:'#000', margin:p.xMargin, fontFamily:FONT},
    name: p.xLabels ? 'Gibbs iteration' : '', nameLocation:'middle', nameGap:p.xNameGap,
    nameTextStyle:{fontSize:18, color:'#000', fontFamily:FONT}});
  option.yAxis.push({gridIndex:i, type:'value', min:p.lim[0], max:p.lim[1],
    axisLine:{show:false}, splitLine:{show:false},
    axisTick:{show:true, customValues:p.ticks, length:6, lineStyle:{color:'#000', width:1.3}},
    axisLabel:{customValues:p.ticks, rotate:90, fontSize:11, color:'#000', margin:11, fontFamily:FONT,
      formatter:(v)=>Number(v).toFixed(3)},
    name: p.name ? p.name + '\u2009{i|\u03bcm}' : '', nameLocation:'middle', nameRotate:90, nameGap:38,
    nameTextStyle:{fontSize:18, color:'#000', fontFamily:FONT,
      rich:{i:{fontSize:18, fontStyle:'italic', color:'#000', fontFamily:FONT}}}});
  option.series.push({type:'line', xAxisIndex:i, yAxisIndex:i, data:[], z:1, silent:true,
    markArea:{silent:true, itemStyle:{color:'#dedede', opacity:1}, label:{show:false},
      data:[[{xAxis:0},{xAxis:p.shade}]]}});
  p.data.forEach((chain, k) => {
    option.series.push({type:'line', xAxisIndex:i, yAxisIndex:i, silent:true, z:2+k,
      data: iterations.map((x, j) => [x, chain[j]]),
      symbol:'none', showSymbol:false, clip:true,
      lineStyle:{color:chainColors[k], width:2.6}, itemStyle:{color:chainColors[k]}});
  });
}

const cloudData = [cloud35, cloud49, cloud25, cloud60, cloud100, cloud140, cloud240];
cloudData.forEach((d, r) => addPanel({left:69, width:261, top:EM_TOP + r*EM_H, height:EM_H,
  data:d, ticks:cloudYTicks[r], lim:cloudYLim[r], name:cloudNames[r],
  shade: r === 6 ? 50 : 30, xTicks: r === 6, xLabels: r === 6, xMargin:15, xNameGap:40}));
const bandsData = [bands49, bands25, bands60, bands100];
bandsData.forEach((d, r) => addPanel({left:380, width:260, top:EM_TOP + (r+1)*EM_H, height:EM_H,
  data:d, ticks:bandsYTicks[r], lim:bandsYLim[r], name:'', shade:30, xTicks: r === 3, xLabels: r === 3,
  xMargin:15, xNameGap:40}));
const ringData = [ring49, ring60, ring100];
const ringRows = [1, 3, 4];
ringData.forEach((d, r) => addPanel({left:691, width:260, top:EM_TOP + ringRows[r]*EM_H, height:EM_H,
  data:d, ticks:ringYTicks[r], lim:ringYLim[r], name:'', shade:30, xTicks: true, xLabels: r === 2,
  xMargin:15, xNameGap:40}));
const albedoData = [albedo125, albedo22, albedo35];
albedoData.forEach((d, r) => addPanel({left:1049, width:279, top:AL_TOP + r*AL_H, height:AL_H,
  data:d, ticks:albedoYTicks[r], lim:albedoYLim[r], name:albedoNames[r], shade:50,
  xTicks: r === 2, xLabels: r === 2, xMargin:12, xNameGap:37}));

function addText(text, x, y, size) {
  option.graphic.push({type:'text', silent:true, style:{text, x, y, align:'center', verticalAlign:'middle',
    fontSize:size, fontFamily:FONT, fill:'#000'}});
}
addText('Emissivity', 495, 26.5, 28);
addText('Albedo', 1184, 26.5, 28);
addText('Cloud', 199.5, 49.2, 22);
addText('Bands', 510, 196.3, 22);
addText('Ring', 821, 196.3, 22);
addText('Cloud+Bands+Ring', 1188.5, 51.8, 22);

const chart = echarts.init(document.getElementById('c'), null, {renderer:'canvas'});
chart.setOption(option);
</script></body></html>
